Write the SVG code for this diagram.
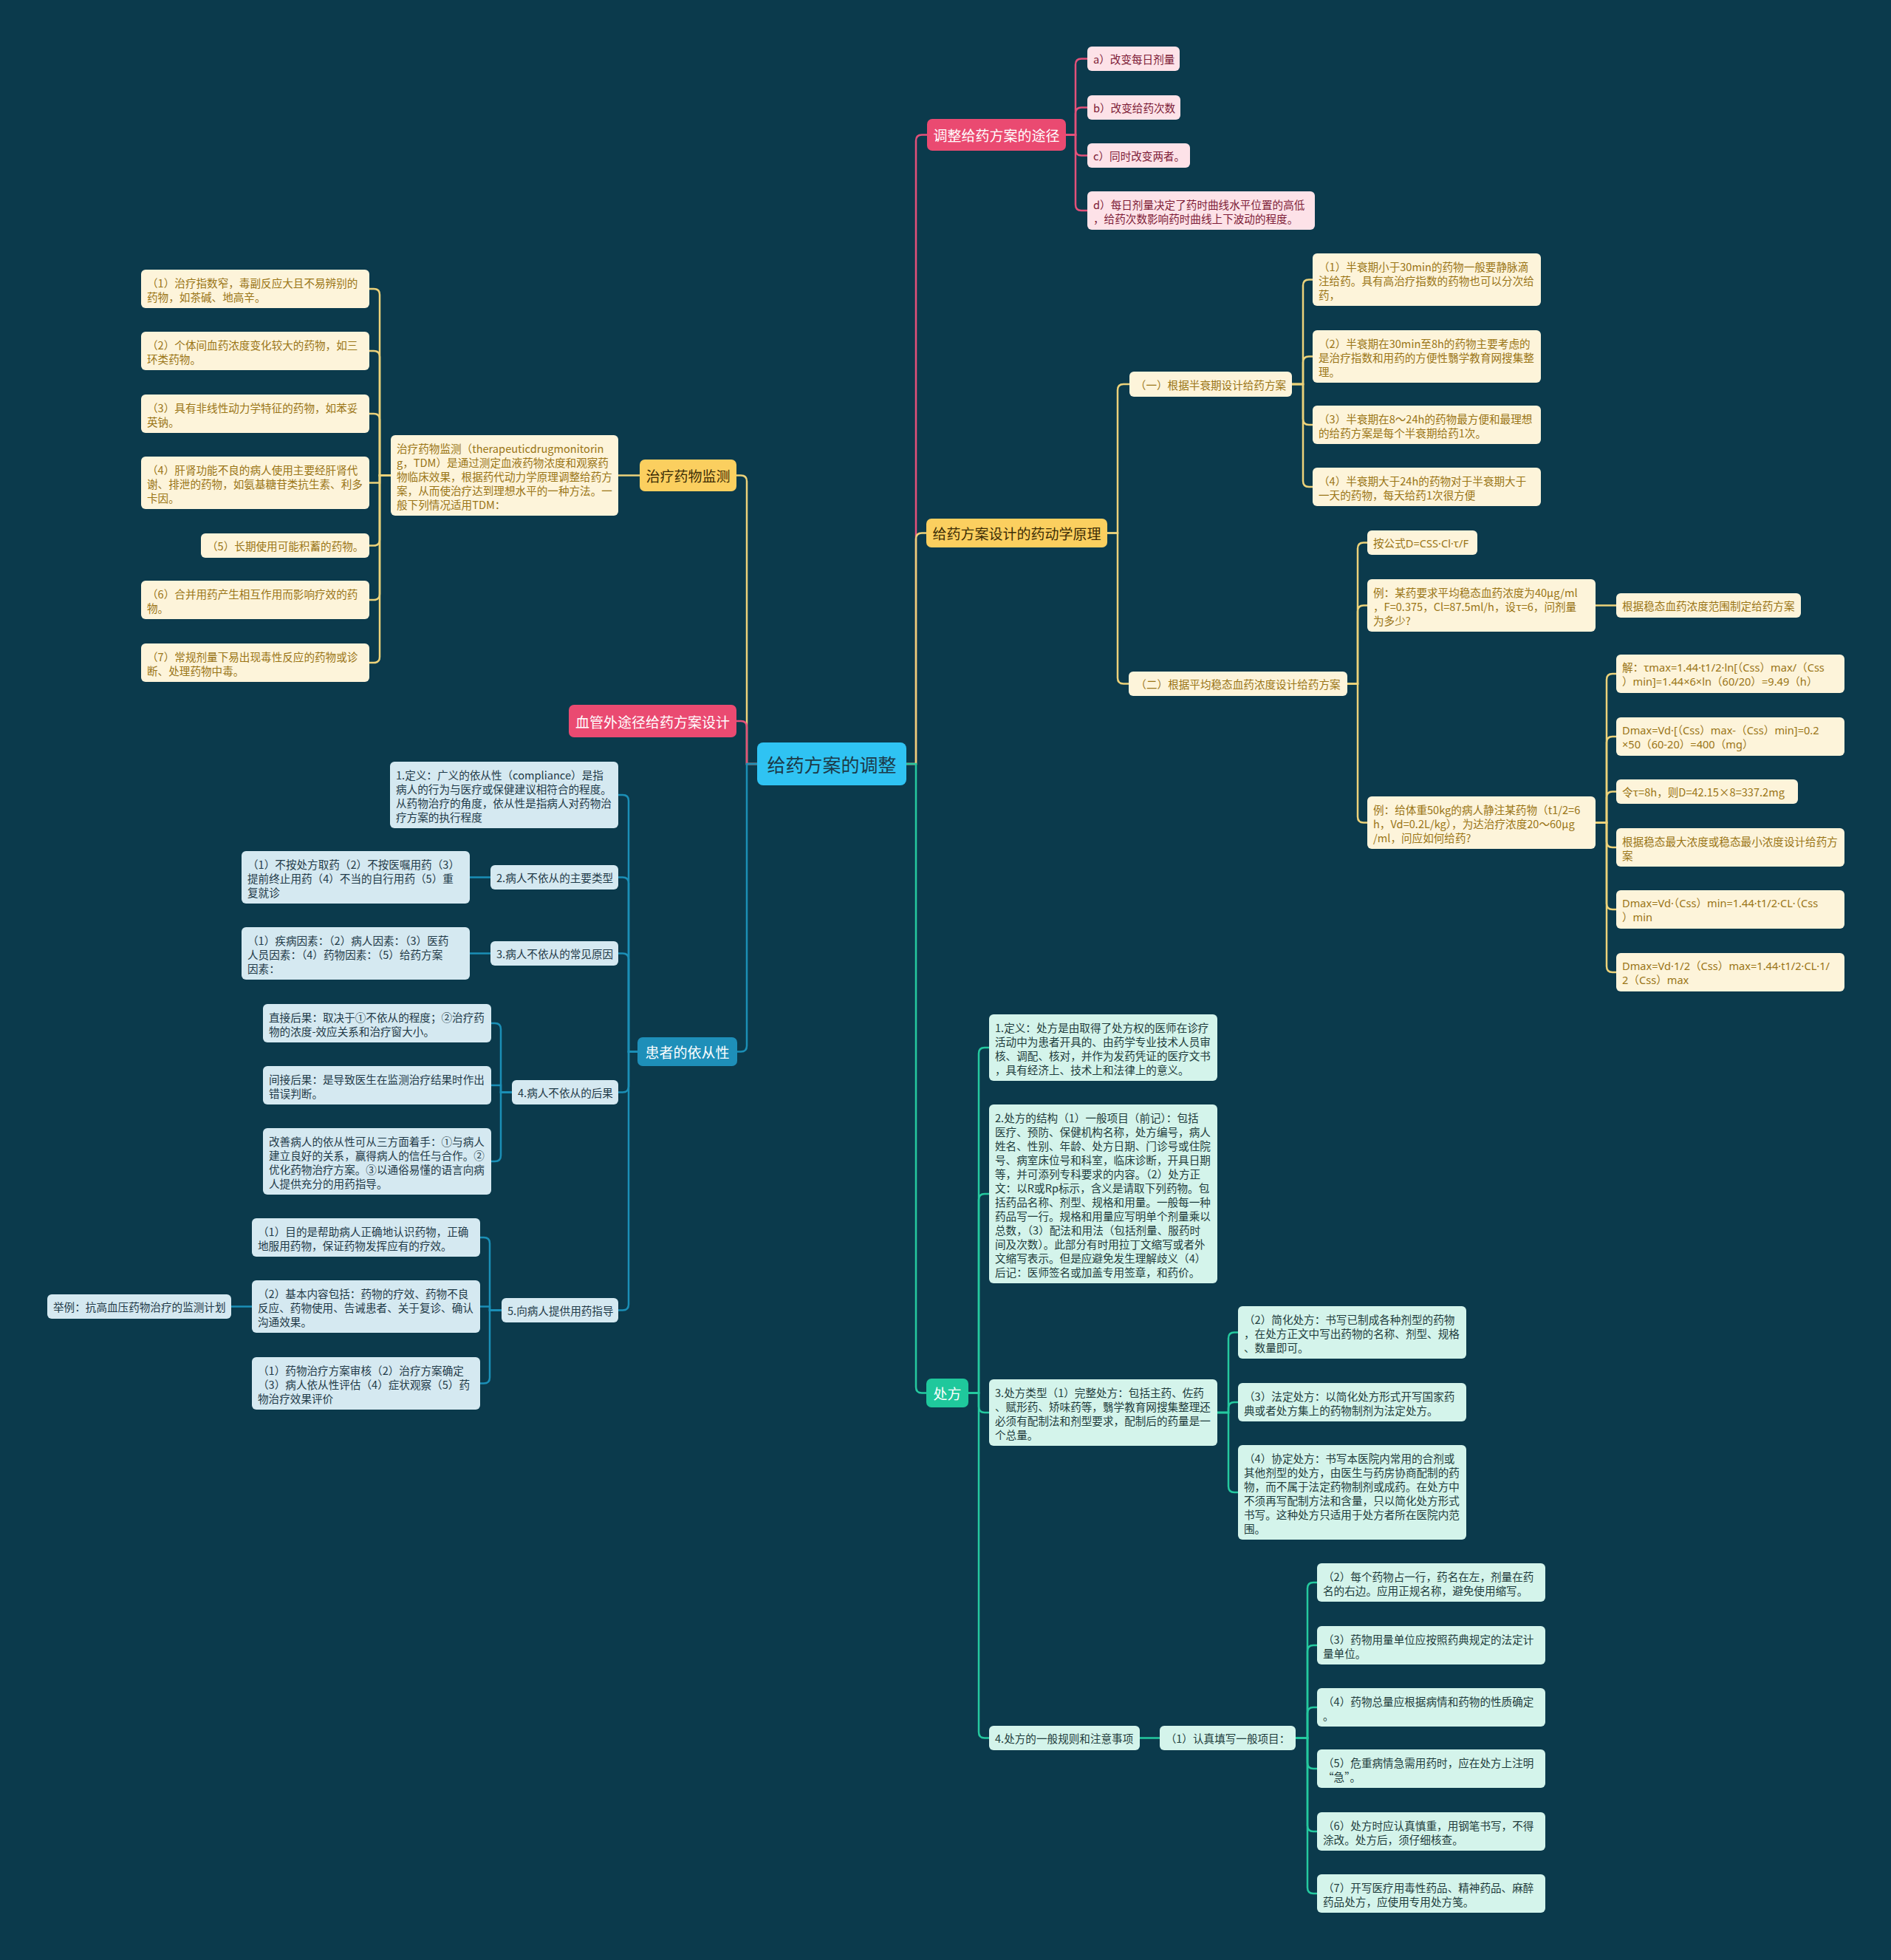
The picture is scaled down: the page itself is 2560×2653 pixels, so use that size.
<svg xmlns="http://www.w3.org/2000/svg" width="2560" height="2653" viewBox="0 0 2560 2653">
<style>
text{font-family:"Noto Sans CJK SC","Noto Sans",sans-serif;dominant-baseline:central}
text.f{font-family:"Noto Sans","Noto Sans CJK SC",sans-serif}
.s{font-size:14.6px}
.m{font-size:19px;text-anchor:middle}
.c{text-anchor:middle}
.l{fill:none;stroke-width:2.5;stroke-linecap:round}
.lp{stroke:#e4517a}.ly{stroke:#ecd27a}.lb{stroke:#1b8fb6}.lg{stroke:#25c99f}
.bp{fill:#fde2e8}.by{fill:#fdf4da}.bb{fill:#d5e9f1}.bg{fill:#d4f4eb}
.tp{fill:#7d1c37}.ty{fill:#9a7516}.tb{fill:#1f3a48}.tg{fill:#1e3c3c}
</style>
<rect width="2560" height="2653" fill="#0b3a4c"/>

<g id="connectors">
<path class="l ly" stroke-width="3" d="M1025,1034 H1011 V651.5 Q1011,643.5 1003,643.5 H997"/>
<path class="l lp" stroke-width="3" d="M1025,1034 H1011 V984 Q1011,976 1003,976 H997"/>
<path class="l lb" stroke-width="3" d="M1025,1034 H1011 V1415.5 Q1011,1423.5 1003,1423.5 H998"/>
<path class="l lp" stroke-width="3" d="M1227,1034 H1240 V190.5 Q1240,182.5 1248,182.5 H1255"/>
<path class="l ly" stroke-width="3" d="M1227,1034 H1240 V729.5 Q1240,721.5 1248,721.5 H1254"/>
<path class="l lg" stroke-width="3" d="M1227,1034 H1240 V1877.5 Q1240,1885.5 1248,1885.5 H1254"/>

<path class="l lp" d="M1443,182.5 H1456 V87.5 Q1456,79.5 1464,79.5 H1472"/>
<path class="l lp" d="M1443,182.5 H1456 V153.5 Q1456,145.5 1464,145.5 H1472"/>
<path class="l lp" d="M1443,182.5 H1456 V202.5 Q1456,210.5 1464,210.5 H1472"/>
<path class="l lp" d="M1443,182.5 H1456 V277 Q1456,285 1464,285 H1472"/>

<path class="l ly" d="M1499,721.5 H1513 V528 Q1513,520 1521,520 H1529"/>
<path class="l ly" d="M1499,721.5 H1513 V917.5 Q1513,925.5 1521,925.5 H1528"/>
<path class="l ly" d="M1749,520 H1764 V386.5 Q1764,378.5 1772,378.5 H1777"/>
<path class="l ly" d="M1749,520 H1764 V490.5 Q1764,482.5 1772,482.5 H1777"/>
<path class="l ly" d="M1749,520 H1764 V567 Q1764,575 1772,575 H1777"/>
<path class="l ly" d="M1749,520 H1764 V651 Q1764,659 1772,659 H1777"/>
<path class="l ly" d="M1824,925.5 H1838 V742.5 Q1838,734.5 1846,734.5 H1851"/>
<path class="l ly" d="M1824,925.5 H1838 V827.5 Q1838,819.5 1846,819.5 H1851"/>
<path class="l ly" d="M1824,925.5 H1838 V1105.5 Q1838,1113.5 1846,1113.5 H1851"/>
<path class="l ly" d="M2160,819.5 H2188"/>
<path class="l ly" d="M2160,1113.5 H2175 V920 Q2175,912 2183,912 H2188"/>
<path class="l ly" d="M2160,1113.5 H2175 V1005 Q2175,997 2183,997 H2188"/>
<path class="l ly" d="M2160,1113.5 H2175 V1079.5 Q2175,1071.5 2183,1071.5 H2188"/>
<path class="l ly" d="M2160,1113.5 H2175 V1139 Q2175,1147 2183,1147 H2188"/>
<path class="l ly" d="M2160,1113.5 H2175 V1223 Q2175,1231 2183,1231 H2188"/>
<path class="l ly" d="M2160,1113.5 H2175 V1308 Q2175,1316 2183,1316 H2188"/>

<path class="l ly" d="M866,643.5 H837"/>
<path class="l ly" d="M529,643.5 H514 V399 Q514,391 506,391 H500"/>
<path class="l ly" d="M529,643.5 H514 V483 Q514,475 506,475 H500"/>
<path class="l ly" d="M529,643.5 H514 V568 Q514,560 506,560 H500"/>
<path class="l ly" d="M529,643.5 H514 V653.5 H500"/>
<path class="l ly" d="M529,643.5 H514 V730.5 Q514,738.5 506,738.5 H500"/>
<path class="l ly" d="M529,643.5 H514 V804 Q514,812 506,812 H500"/>
<path class="l ly" d="M529,643.5 H514 V889 Q514,897 506,897 H500"/>

<path class="l lb" d="M863,1423.5 H851 V1084 Q851,1076 843,1076 H837"/>
<path class="l lb" d="M863,1423.5 H851 V1195.5 Q851,1187.5 843,1187.5 H837"/>
<path class="l lb" d="M863,1423.5 H851 V1298.5 Q851,1290.5 843,1290.5 H837"/>
<path class="l lb" d="M863,1423.5 H851 V1470.5 Q851,1478.5 843,1478.5 H837"/>
<path class="l lb" d="M863,1423.5 H851 V1765.5 Q851,1773.5 843,1773.5 H837"/>
<path class="l lb" d="M664,1187.5 H636"/>
<path class="l lb" d="M664,1290.5 H636"/>
<path class="l lb" d="M693,1478.5 H678 V1393 Q678,1385 670,1385 H665"/>
<path class="l lb" d="M693,1478.5 H678 V1469 H665"/>
<path class="l lb" d="M693,1478.5 H678 V1564 Q678,1572 670,1572 H665"/>
<path class="l lb" d="M679,1773.5 H663 V1683 Q663,1675 655,1675 H650"/>
<path class="l lb" d="M679,1773.5 H663 V1768.5 H650"/>
<path class="l lb" d="M679,1773.5 H663 V1864.5 Q663,1872.5 655,1872.5 H650"/>
<path class="l lb" d="M341,1768.5 H313"/>

<path class="l lg" d="M1311,1885.5 H1325 V1426 Q1325,1418 1333,1418 H1339"/>
<path class="l lg" d="M1311,1885.5 H1325 V1624 Q1325,1616 1333,1616 H1339"/>
<path class="l lg" d="M1311,1885.5 H1325 V1904 Q1325,1912 1333,1912 H1339"/>
<path class="l lg" d="M1311,1885.5 H1325 V2344.5 Q1325,2352.5 1333,2352.5 H1339"/>
<path class="l lg" d="M1648,1912 H1663 V1811.5 Q1663,1803.5 1671,1803.5 H1676"/>
<path class="l lg" d="M1648,1912 H1663 V1906 Q1663,1898 1671,1898 H1676"/>
<path class="l lg" d="M1648,1912 H1663 V2012 Q1663,2020 1671,2020 H1676"/>
<path class="l lg" d="M1543,2352.5 H1570"/>
<path class="l lg" d="M1754,2352.5 H1770 V2150 Q1770,2142 1778,2142 H1783"/>
<path class="l lg" d="M1754,2352.5 H1770 V2235 Q1770,2227 1778,2227 H1783"/>
<path class="l lg" d="M1754,2352.5 H1770 V2319 Q1770,2311 1778,2311 H1783"/>
<path class="l lg" d="M1754,2352.5 H1770 V2386 Q1770,2394 1778,2394 H1783"/>
<path class="l lg" d="M1754,2352.5 H1770 V2471 Q1770,2479 1778,2479 H1783"/>
<path class="l lg" d="M1754,2352.5 H1770 V2555 Q1770,2563 1778,2563 H1783"/>
</g>

<g id="center"><rect x="1025" y="1005" width="202" height="58" rx="8" fill="#2fc3f3"/><text x="1126" y="1034" font-size="25" class="c" fill="#1c3a48">给药方案的调整</text></g>

<g id="n-adjust"><rect x="1255" y="161" width="188" height="43" rx="7" fill="#ea4a71"/><text x="1349" y="182.5" class="m" fill="#fff">调整给药方案的途径</text></g>
<g id="n-a"><rect x="1472" y="63" width="125" height="33" rx="6" class="bp"/><text class="s tp" x="1480" y="79.5">a）改变每日剂量</text></g>
<g id="n-b"><rect x="1472" y="129" width="126" height="33" rx="6" class="bp"/><text class="s tp" x="1480" y="145.5">b）改变给药次数</text></g>
<g id="n-c"><rect x="1472" y="194" width="139" height="33" rx="6" class="bp"/><text class="s tp" x="1480" y="210.5">c）同时改变两者。</text></g>
<g id="n-d"><rect x="1472" y="259" width="308" height="52" rx="6" class="bp"/><text class="s tp"><tspan x="1480" y="275.5">d）每日剂量决定了药时曲线水平位置的高低</tspan><tspan x="1480" y="294.5">，给药次数影响药时曲线上下波动的程度。</tspan></text></g>

<g id="n-pk"><rect x="1254" y="702" width="245" height="39" rx="7" fill="#fbcf5f"/><text x="1376.5" y="721.5" class="m" fill="#3b2c05">给药方案设计的药动学原理</text></g>
<g id="n-half"><rect x="1529" y="503" width="220" height="34" rx="6" class="by"/><text class="s ty c" x="1639" y="520">（一）根据半衰期设计给药方案</text></g>
<g id="n-h1"><rect x="1777" y="343" width="309" height="71" rx="6" class="by"/><text class="s ty"><tspan x="1785" y="359.5">（1）半衰期小于30min的药物一般要静脉滴</tspan><tspan x="1785" y="378.5">注给药。具有高治疗指数的药物也可以分次给</tspan><tspan x="1785" y="397.5">药，</tspan></text></g>
<g id="n-h2"><rect x="1777" y="447" width="309" height="71" rx="6" class="by"/><text class="s ty"><tspan x="1785" y="463.5">（2）半衰期在30min至8h的药物主要考虑的</tspan><tspan x="1785" y="482.5">是治疗指数和用药的方便性翳学教育网搜集整</tspan><tspan x="1785" y="501.5">理。</tspan></text></g>
<g id="n-h3"><rect x="1777" y="549" width="309" height="52" rx="6" class="by"/><text class="s ty"><tspan x="1785" y="565.5">（3）半衰期在8～24h的药物最方便和最理想</tspan><tspan x="1785" y="584.5">的给药方案是每个半衰期给药1次。</tspan></text></g>
<g id="n-h4"><rect x="1777" y="633" width="309" height="52" rx="6" class="by"/><text class="s ty"><tspan x="1785" y="649.5">（4）半衰期大于24h的药物对于半衰期大于</tspan><tspan x="1785" y="668.5">一天的药物，每天给药1次很方便</tspan></text></g>

<g id="n-css"><rect x="1528" y="909" width="296" height="33" rx="6" class="by"/><text class="s ty c" x="1676" y="925.5">（二）根据平均稳态血药浓度设计给药方案</text></g>
<g id="n-formula"><rect x="1851" y="718" width="149" height="33" rx="6" class="by"/><text class="s ty f" x="1859" y="734.5">按公式D=CSS·Cl·τ/F</text></g>
<g id="n-ex1"><rect x="1851" y="784" width="309" height="71" rx="6" class="by"/><text class="s ty"><tspan x="1859" y="800.5">例：某药要求平均稳态血药浓度为40μg/ml</tspan><tspan x="1859" y="819.5">，F=0.375，Cl=87.5ml/h，设τ=6，问剂量</tspan><tspan x="1859" y="838.5">为多少?</tspan></text></g>
<g id="n-range"><rect x="2188" y="803" width="250" height="33" rx="6" class="by"/><text class="s ty" x="2196" y="819.5">根据稳态血药浓度范围制定给药方案</text></g>
<g id="n-ex2"><rect x="1851" y="1078" width="309" height="71" rx="6" class="by"/><text class="s ty"><tspan x="1859" y="1094.5">例：给体重50kg的病人静注某药物（t1/2=6</tspan><tspan x="1859" y="1113.5">h，Vd=0.2L/kg），为达治疗浓度20～60μg</tspan><tspan x="1859" y="1132.5">/ml，问应如何给药?</tspan></text></g>
<g id="n-e1"><rect x="2188" y="886" width="309" height="52" rx="6" class="by"/><text class="s ty f"><tspan x="2196" y="902.5">解：τmax=1.44·t1/2·ln[（Css）max/（Css</tspan><tspan x="2196" y="921.5">）min]=1.44×6×ln（60/20）=9.49（h）</tspan></text></g>
<g id="n-e2"><rect x="2188" y="971" width="309" height="52" rx="6" class="by"/><text class="s ty f"><tspan x="2196" y="987.5">Dmax=Vd·[（Css）max-（Css）min]=0.2</tspan><tspan x="2196" y="1006.5">×50（60-20）=400（mg）</tspan></text></g>
<g id="n-e3"><rect x="2188" y="1055" width="246" height="33" rx="6" class="by"/><text class="s ty" x="2196" y="1071.5">令τ=8h，则D=42.15×8=337.2mg</text></g>
<g id="n-e4"><rect x="2188" y="1121" width="309" height="52" rx="6" class="by"/><text class="s ty"><tspan x="2196" y="1137.5">根据稳态最大浓度或稳态最小浓度设计给药方</tspan><tspan x="2196" y="1156.5">案</tspan></text></g>
<g id="n-e5"><rect x="2188" y="1205" width="309" height="52" rx="6" class="by"/><text class="s ty f"><tspan x="2196" y="1221.5">Dmax=Vd·（Css）min=1.44·t1/2·CL·（Css</tspan><tspan x="2196" y="1240.5">）min</tspan></text></g>
<g id="n-e6"><rect x="2188" y="1290" width="309" height="52" rx="6" class="by"/><text class="s ty f"><tspan x="2196" y="1306.5">Dmax=Vd·1/2（Css）max=1.44·t1/2·CL·1/</tspan><tspan x="2196" y="1325.5">2（Css）max</tspan></text></g>

<g id="n-rx"><rect x="1254" y="1866" width="57" height="39" rx="7" fill="#1fc89c"/><text x="1282.5" y="1885.5" class="m" fill="#fff">处方</text></g>
<g id="n-rx1"><rect x="1339" y="1373" width="309" height="90" rx="6" class="bg"/><text class="s tg"><tspan x="1347" y="1389.5">1.定义：处方是由取得了处方权的医师在诊疗</tspan><tspan x="1347" y="1408.5">活动中为患者开具的、由药学专业技术人员审</tspan><tspan x="1347" y="1427.5">核、调配、核对，并作为发药凭证的医疗文书</tspan><tspan x="1347" y="1446.5">，具有经济上、技术上和法律上的意义。</tspan></text></g>
<g id="n-rx2"><rect x="1339" y="1495" width="309" height="242" rx="6" class="bg"/><text class="s tg"><tspan x="1347" y="1511.5">2.处方的结构（1）一般项目（前记）：包括</tspan><tspan x="1347" y="1530.5">医疗、预防、保健机构名称，处方编号，病人</tspan><tspan x="1347" y="1549.5">姓名、性别、年龄、处方日期、门诊号或住院</tspan><tspan x="1347" y="1568.5">号、病室床位号和科室，临床诊断，开具日期</tspan><tspan x="1347" y="1587.5">等，并可添列专科要求的内容。（2）处方正</tspan><tspan x="1347" y="1606.5">文：以R或Rp标示，含义是请取下列药物。包</tspan><tspan x="1347" y="1625.5">括药品名称、剂型、规格和用量。一般每一种</tspan><tspan x="1347" y="1644.5">药品写一行。规格和用量应写明单个剂量乘以</tspan><tspan x="1347" y="1663.5">总数，（3）配法和用法（包括剂量、服药时</tspan><tspan x="1347" y="1682.5">间及次数）。此部分有时用拉丁文缩写或者外</tspan><tspan x="1347" y="1701.5">文缩写表示。但是应避免发生理解歧义（4）</tspan><tspan x="1347" y="1720.5">后记：医师签名或加盖专用签章，和药价。</tspan></text></g>
<g id="n-rx3"><rect x="1339" y="1867" width="309" height="90" rx="6" class="bg"/><text class="s tg"><tspan x="1347" y="1883.5">3.处方类型（1）完整处方：包括主药、佐药</tspan><tspan x="1347" y="1902.5">、赋形药、矫味药等，翳学教育网搜集整理还</tspan><tspan x="1347" y="1921.5">必须有配制法和剂型要求，配制后的药量是一</tspan><tspan x="1347" y="1940.5">个总量。</tspan></text></g>
<g id="n-rx3a"><rect x="1676" y="1768" width="309" height="71" rx="6" class="bg"/><text class="s tg"><tspan x="1684" y="1784.5">（2）简化处方：书写已制成各种剂型的药物</tspan><tspan x="1684" y="1803.5">，在处方正文中写出药物的名称、剂型、规格</tspan><tspan x="1684" y="1822.5">、数量即可。</tspan></text></g>
<g id="n-rx3b"><rect x="1676" y="1872" width="309" height="52" rx="6" class="bg"/><text class="s tg"><tspan x="1684" y="1888.5">（3）法定处方：以简化处方形式开写国家药</tspan><tspan x="1684" y="1907.5">典或者处方集上的药物制剂为法定处方。</tspan></text></g>
<g id="n-rx3c"><rect x="1676" y="1956" width="309" height="128" rx="6" class="bg"/><text class="s tg"><tspan x="1684" y="1972.5">（4）协定处方：书写本医院内常用的合剂或</tspan><tspan x="1684" y="1991.5">其他剂型的处方，由医生与药房协商配制的药</tspan><tspan x="1684" y="2010.5">物，而不属于法定药物制剂或成药。在处方中</tspan><tspan x="1684" y="2029.5">不须再写配制方法和含量，只以简化处方形式</tspan><tspan x="1684" y="2048.5">书写。这种处方只适用于处方者所在医院内范</tspan><tspan x="1684" y="2067.5">围。</tspan></text></g>
<g id="n-rx4"><rect x="1339" y="2336" width="204" height="33" rx="6" class="bg"/><text class="s tg" x="1347" y="2352.5">4.处方的一般规则和注意事项</text></g>
<g id="n-rx41"><rect x="1570" y="2336" width="184" height="33" rx="6" class="bg"/><text class="s tg c" x="1662" y="2352.5">（1）认真填写一般项目：</text></g>
<g id="n-r2"><rect x="1783" y="2116" width="309" height="52" rx="6" class="bg"/><text class="s tg"><tspan x="1791" y="2132.5">（2）每个药物占一行，药名在左，剂量在药</tspan><tspan x="1791" y="2151.5">名的右边。应用正规名称，避免使用缩写。</tspan></text></g>
<g id="n-r3"><rect x="1783" y="2201" width="309" height="52" rx="6" class="bg"/><text class="s tg"><tspan x="1791" y="2217.5">（3）药物用量单位应按照药典规定的法定计</tspan><tspan x="1791" y="2236.5">量单位。</tspan></text></g>
<g id="n-r4"><rect x="1783" y="2285" width="309" height="52" rx="6" class="bg"/><text class="s tg"><tspan x="1791" y="2301.5">（4）药物总量应根据病情和药物的性质确定</tspan><tspan x="1791" y="2320.5">。</tspan></text></g>
<g id="n-r5"><rect x="1783" y="2368" width="309" height="52" rx="6" class="bg"/><text class="s tg"><tspan x="1791" y="2384.5">（5）危重病情急需用药时，应在处方上注明</tspan><tspan x="1791" y="2403.5">“急”。</tspan></text></g>
<g id="n-r6"><rect x="1783" y="2453" width="309" height="52" rx="6" class="bg"/><text class="s tg"><tspan x="1791" y="2469.5">（6）处方时应认真慎重，用钢笔书写，不得</tspan><tspan x="1791" y="2488.5">涂改。处方后，须仔细核查。</tspan></text></g>
<g id="n-r7"><rect x="1783" y="2537" width="309" height="52" rx="6" class="bg"/><text class="s tg"><tspan x="1791" y="2553.5">（7）开写医疗用毒性药品、精神药品、麻醉</tspan><tspan x="1791" y="2572.5">药品处方，应使用专用处方笺。</tspan></text></g>

<g id="n-tdm"><rect x="866" y="622" width="131" height="43" rx="7" fill="#fbcf5f"/><text x="931.5" y="643.5" class="m" fill="#3b2c05">治疗药物监测</text></g>
<g id="n-tdmdef"><rect x="529" y="589" width="308" height="109" rx="6" class="by"/><text class="s ty"><tspan x="537" y="605.5">治疗药物监测（therapeuticdrugmonitorin</tspan><tspan x="537" y="624.5">g，TDM）是通过测定血液药物浓度和观察药</tspan><tspan x="537" y="643.5">物临床效果，根据药代动力学原理调整给药方</tspan><tspan x="537" y="662.5">案，从而使治疗达到理想水平的一种方法。一</tspan><tspan x="537" y="681.5">般下列情况适用TDM：</tspan></text></g>
<g id="n-t1"><rect x="191" y="365" width="309" height="52" rx="6" class="by"/><text class="s ty"><tspan x="199" y="381.5">（1）治疗指数窄，毒副反应大且不易辨别的</tspan><tspan x="199" y="400.5">药物，如茶碱、地高辛。</tspan></text></g>
<g id="n-t2"><rect x="191" y="449" width="309" height="52" rx="6" class="by"/><text class="s ty"><tspan x="199" y="465.5">（2）个体间血药浓度变化较大的药物，如三</tspan><tspan x="199" y="484.5">环类药物。</tspan></text></g>
<g id="n-t3"><rect x="191" y="534" width="309" height="52" rx="6" class="by"/><text class="s ty"><tspan x="199" y="550.5">（3）具有非线性动力学特征的药物，如苯妥</tspan><tspan x="199" y="569.5">英钠。</tspan></text></g>
<g id="n-t4"><rect x="191" y="618" width="309" height="71" rx="6" class="by"/><text class="s ty"><tspan x="199" y="634.5">（4）肝肾功能不良的病人使用主要经肝肾代</tspan><tspan x="199" y="653.5">谢、排泄的药物，如氨基糖苷类抗生素、利多</tspan><tspan x="199" y="672.5">卡因。</tspan></text></g>
<g id="n-t5"><rect x="272" y="722" width="228" height="33" rx="6" class="by"/><text class="s ty" x="280" y="738.5">（5）长期使用可能积蓄的药物。</text></g>
<g id="n-t6"><rect x="191" y="786" width="309" height="52" rx="6" class="by"/><text class="s ty"><tspan x="199" y="802.5">（6）合并用药产生相互作用而影响疗效的药</tspan><tspan x="199" y="821.5">物。</tspan></text></g>
<g id="n-t7"><rect x="191" y="871" width="309" height="52" rx="6" class="by"/><text class="s ty"><tspan x="199" y="887.5">（7）常规剂量下易出现毒性反应的药物或诊</tspan><tspan x="199" y="906.5">断、处理药物中毒。</tspan></text></g>

<g id="n-extra"><rect x="770" y="954" width="227" height="44" rx="7" fill="#ea4a71"/><text x="883.5" y="976" class="m" font-size="20" fill="#fff">血管外途径给药方案设计</text></g>

<g id="n-comp"><rect x="863" y="1404" width="135" height="39" rx="7" fill="#1e8fb9"/><text x="930.5" y="1423.5" class="m" fill="#fff">患者的依从性</text></g>
<g id="n-c1"><rect x="528" y="1031" width="309" height="90" rx="6" class="bb"/><text class="s tb"><tspan x="536" y="1047.5">1.定义：广义的依从性（compliance）是指</tspan><tspan x="536" y="1066.5">病人的行为与医疗或保健建议相符合的程度。</tspan><tspan x="536" y="1085.5">从药物治疗的角度，依从性是指病人对药物治</tspan><tspan x="536" y="1104.5">疗方案的执行程度</tspan></text></g>
<g id="n-c2"><rect x="664" y="1171" width="173" height="33" rx="6" class="bb"/><text class="s tb" x="672" y="1187.5">2.病人不依从的主要类型</text></g>
<g id="n-c2a"><rect x="327" y="1152" width="309" height="71" rx="6" class="bb"/><text class="s tb"><tspan x="335" y="1168.5">（1）不按处方取药（2）不按医嘱用药（3）</tspan><tspan x="335" y="1187.5">提前终止用药（4）不当的自行用药（5）重</tspan><tspan x="335" y="1206.5">复就诊</tspan></text></g>
<g id="n-c3"><rect x="664" y="1274" width="173" height="33" rx="6" class="bb"/><text class="s tb" x="672" y="1290.5">3.病人不依从的常见原因</text></g>
<g id="n-c3a"><rect x="327" y="1255" width="309" height="71" rx="6" class="bb"/><text class="s tb"><tspan x="335" y="1271.5">（1）疾病因素：（2）病人因素：（3）医药</tspan><tspan x="335" y="1290.5">人员因素：（4）药物因素：（5）给药方案</tspan><tspan x="335" y="1309.5">因素：</tspan></text></g>
<g id="n-c4"><rect x="693" y="1462" width="144" height="33" rx="6" class="bb"/><text class="s tb" x="701" y="1478.5">4.病人不依从的后果</text></g>
<g id="n-c4a"><rect x="356" y="1359" width="309" height="52" rx="6" class="bb"/><text class="s tb"><tspan x="364" y="1375.5">直接后果：取决于①不依从的程度；②治疗药</tspan><tspan x="364" y="1394.5">物的浓度-效应关系和治疗窗大小。</tspan></text></g>
<g id="n-c4b"><rect x="356" y="1443" width="309" height="52" rx="6" class="bb"/><text class="s tb"><tspan x="364" y="1459.5">间接后果：是导致医生在监测治疗结果时作出</tspan><tspan x="364" y="1478.5">错误判断。</tspan></text></g>
<g id="n-c4c"><rect x="356" y="1527" width="309" height="90" rx="6" class="bb"/><text class="s tb"><tspan x="364" y="1543.5">改善病人的依从性可从三方面着手：①与病人</tspan><tspan x="364" y="1562.5">建立良好的关系，赢得病人的信任与合作。②</tspan><tspan x="364" y="1581.5">优化药物治疗方案。③以通俗易懂的语言向病</tspan><tspan x="364" y="1600.5">人提供充分的用药指导。</tspan></text></g>
<g id="n-c5"><rect x="679" y="1757" width="158" height="33" rx="6" class="bb"/><text class="s tb" x="687" y="1773.5">5.向病人提供用药指导</text></g>
<g id="n-c5a"><rect x="341" y="1649" width="309" height="52" rx="6" class="bb"/><text class="s tb"><tspan x="349" y="1665.5">（1）目的是帮助病人正确地认识药物，正确</tspan><tspan x="349" y="1684.5">地服用药物，保证药物发挥应有的疗效。</tspan></text></g>
<g id="n-c5b"><rect x="341" y="1733" width="309" height="71" rx="6" class="bb"/><text class="s tb"><tspan x="349" y="1749.5">（2）基本内容包括：药物的疗效、药物不良</tspan><tspan x="349" y="1768.5">反应、药物使用、告诫患者、关于复诊、确认</tspan><tspan x="349" y="1787.5">沟通效果。</tspan></text></g>
<g id="n-c5c"><rect x="341" y="1837" width="309" height="71" rx="6" class="bb"/><text class="s tb"><tspan x="349" y="1853.5">（1）药物治疗方案审核（2）治疗方案确定</tspan><tspan x="349" y="1872.5">（3）病人依从性评估（4）症状观察（5）药</tspan><tspan x="349" y="1891.5">物治疗效果评价</tspan></text></g>
<g id="n-c5ex"><rect x="64" y="1752" width="249" height="33" rx="6" class="bb"/><text class="s tb" x="72" y="1768.5">举例：抗高血压药物治疗的监测计划</text></g>
</svg>
